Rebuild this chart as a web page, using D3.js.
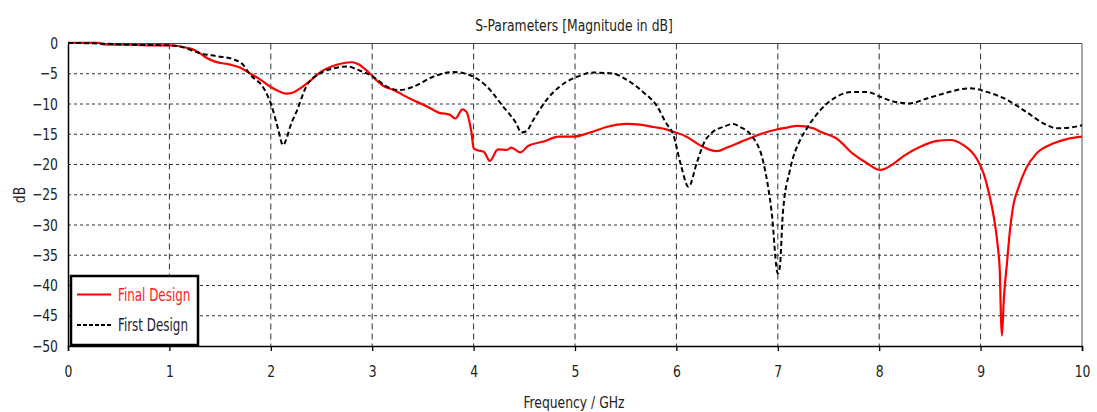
<!DOCTYPE html>
<html>
<head>
<meta charset="utf-8">
<script src="https://cdn.jsdelivr.net/npm/d3@7"></script>
<style>
  html, body { margin: 0; padding: 0; background: #fff; }
  svg { display: block; }
  text { font-family: "DejaVu Sans Condensed", "Liberation Sans", sans-serif; }
</style>
</head>
<body>
<svg id="chart" width="1097" height="412"></svg>
<script>
// S11 magnitude of the final antenna design (frequency in GHz, magnitude in dB)
const finalFreq = [0, 0.3, 0.35, 0.6, 0.8, 1.0, 1.1, 1.17, 1.25, 1.3, 1.37, 1.45, 1.6, 1.7, 1.8, 1.9, 2.0, 2.08, 2.15, 2.22, 2.3, 2.4, 2.5, 2.6, 2.7, 2.8, 2.86, 2.92, 2.98, 3.05, 3.1, 3.21, 3.37, 3.54, 3.67, 3.72, 3.77, 3.82, 3.89, 3.93, 3.96, 3.98, 4.0, 4.03, 4.1, 4.16, 4.24, 4.33, 4.37, 4.46, 4.54, 4.69, 4.84, 4.98, 5.15, 5.31, 5.51, 5.64, 5.77, 5.9, 5.97, 6.1, 6.23, 6.4, 6.5, 6.63, 6.76, 6.92, 7.09, 7.19, 7.35, 7.42, 7.58, 7.74, 7.88, 8.01, 8.14, 8.24, 8.4, 8.57, 8.7, 8.83, 8.96, 9.03, 9.09, 9.14, 9.17, 9.19, 9.2, 9.21, 9.23, 9.26, 9.29, 9.32, 9.37, 9.45, 9.55, 9.72, 9.85, 10];
const finalDb = [0.1, 0.1, -0.15, -0.2, -0.3, -0.3, -0.45, -0.7, -1.1, -1.6, -2.4, -3.0, -3.5, -4.0, -5.0, -6.0, -7.2, -7.9, -8.3, -8.1, -7.3, -6.0, -4.6, -3.8, -3.3, -3.1, -3.4, -4.1, -5.0, -6.2, -6.9, -7.7, -9.1, -10.4, -11.5, -11.6, -11.8, -12.4, -10.9, -11.3, -13.0, -14.8, -17.3, -17.6, -17.9, -19.4, -17.5, -17.6, -17.2, -18.0, -16.9, -16.2, -15.4, -15.4, -14.7, -13.8, -13.3, -13.4, -13.8, -14.2, -14.6, -15.4, -16.8, -17.8, -17.2, -16.3, -15.4, -14.5, -13.9, -13.6, -14.0, -14.6, -15.7, -18.2, -19.8, -20.9, -19.9, -18.6, -17.1, -16.1, -15.95, -16.8, -19.0, -21.5, -25.3, -29.7, -33.6, -37.9, -45, -48.3, -42, -36.3, -30.8, -27, -24, -20.6, -18.2, -16.5, -15.8, -15.4];

// S11 magnitude of the first antenna design
const firstFreq = [0, 0.3, 0.6, 1.0, 1.1, 1.2, 1.3, 1.47, 1.63, 1.72, 1.8, 1.93, 2.01, 2.07, 2.12, 2.16, 2.19, 2.26, 2.35, 2.49, 2.62, 2.75, 2.88, 3.01, 3.14, 3.27, 3.41, 3.6, 3.8, 3.96, 4.13, 4.29, 4.42, 4.47, 4.52, 4.59, 4.72, 4.85, 5.02, 5.18, 5.38, 5.51, 5.67, 5.81, 5.9, 5.97, 6.04, 6.12, 6.2, 6.27, 6.36, 6.46, 6.56, 6.63, 6.73, 6.86, 6.94, 7.0, 7.02, 7.05, 7.12, 7.22, 7.28, 7.42, 7.58, 7.74, 7.88, 8.01, 8.14, 8.3, 8.47, 8.67, 8.9, 9.06, 9.26, 9.45, 9.62, 9.75, 9.88, 10];
const firstDb = [0.1, 0, -0.2, -0.3, -0.5, -1.0, -1.6, -2.1, -2.6, -3.4, -5.2, -7.4, -10.4, -14, -16.8, -15.5, -13.8, -11, -7.1, -4.9, -4.1, -3.8, -4.5, -5.5, -7.1, -7.7, -7.1, -5.5, -4.7, -5.2, -7.1, -10.4, -13.2, -14.7, -14.5, -12.6, -9.3, -7.1, -5.5, -4.8, -5.0, -6.0, -8.0, -10.4, -13.2, -15.1, -19.8, -23.7, -19.8, -16.5, -14.6, -13.8, -13.3, -13.8, -15.0, -19.8, -28, -38, -37, -28, -20.9, -15.95, -14.2, -11, -8.8, -8.0, -8.0, -8.8, -9.6, -9.9, -9.1, -8.1, -7.4, -8.0, -9.3, -11.3, -13.2, -14.0, -13.9, -13.5];

const xTicks = [0, 1, 2, 3, 4, 5, 6, 7, 8, 9, 10];
const yTicks = [0, -5, -10, -15, -20, -25, -30, -35, -40, -45, -50];
const seriesNames = ["Final Design", "First Design"];

const svg = d3.select("#chart");
const W = 1097, H = 412;
const margin = { top: 43.5, right: 15, bottom: 66, left: 68 };
const x = d3.scaleLinear().domain([0, 10]).range([margin.left, W - margin.right]);
const y = d3.scaleLinear().domain([-50, 0]).range([H - margin.bottom, margin.top]);

// narrow label text: squeeze each string horizontally to a condensed width
const squeeze = 0.86;
function narrowText(sel, x0, y0, k = squeeze) {
  sel.attr("transform", `translate(${x0},${y0}) scale(${k},1)`);
  return sel;
}

// grid: vertical dashed, horizontal dotted
svg.append("g").selectAll("line").data(xTicks.slice(1, -1)).join("line")
  .attr("x1", d => x(d)).attr("x2", d => x(d))
  .attr("y1", y(0)).attr("y2", y(-50))
  .attr("stroke", "#333").attr("stroke-width", 1).attr("stroke-dasharray", "6,4");
svg.append("g").selectAll("line").data(yTicks.slice(1, -1)).join("line")
  .attr("x1", x(0)).attr("x2", x(10))
  .attr("y1", d => y(d)).attr("y2", d => y(d))
  .attr("stroke", "#333").attr("stroke-width", 1).attr("stroke-dasharray", "3,3");

// plot frame
svg.append("line").attr("x1", x(0)).attr("x2", x(10)).attr("y1", y(0)).attr("y2", y(0))
  .attr("stroke", "#444").attr("stroke-width", 1.2);
svg.append("line").attr("x1", x(10)).attr("x2", x(10)).attr("y1", y(0)).attr("y2", y(-50))
  .attr("stroke", "#888").attr("stroke-width", 1.5);

// curves
const line = (fs, ds) => d3.line()
  .x(i => x(fs[i])).y(i => y(ds[i]))
  .curve(d3.curveMonotoneX)(d3.range(fs.length));

svg.append("path").attr("d", line(finalFreq, finalDb))
  .attr("fill", "none").attr("stroke", "#ff0000").attr("stroke-width", 2.2)
  .attr("stroke-linejoin", "round");
svg.append("path").attr("d", line(firstFreq, firstDb))
  .attr("fill", "none").attr("stroke", "#000").attr("stroke-width", 2)
  .attr("stroke-dasharray", "5,3");

// axes
const xAxis = d3.axisBottom(x).tickValues(xTicks).tickFormat(d3.format("d")).tickSize(5).tickPadding(8);
const gx = svg.append("g").attr("transform", `translate(0,${y(-50)})`).call(xAxis);
gx.select(".domain").attr("stroke", "#000").attr("stroke-width", 1.5);
gx.selectAll(".tick line").attr("stroke", "#000").attr("stroke-width", 1.3);
gx.selectAll(".tick text").attr("font-size", 16).attr("fill", "#222").attr("dy", "0.9em")
  .attr("transform", `translate(0,4) scale(${squeeze},1)`).attr("x", 0)
  .style("font-family", '"DejaVu Sans Condensed", sans-serif');

const yAxis = d3.axisLeft(y).tickValues(yTicks).tickFormat(d3.format("d")).tickSize(0).tickPadding(10);
const gy = svg.append("g").attr("transform", `translate(${x(0)},0)`).call(yAxis);
gy.select(".domain").attr("stroke", "#000").attr("stroke-width", 1.5);
gy.selectAll(".tick text").attr("font-size", 16).attr("fill", "#222")
  .attr("transform", `translate(-10,0) scale(${squeeze},1)`).attr("x", 0)
  .style("font-family", '"DejaVu Sans Condensed", sans-serif');

// titles
narrowText(svg.append("text"), 574, 31).attr("text-anchor", "middle")
  .attr("font-size", 16).attr("fill", "#222").text("S-Parameters [Magnitude in dB]");
narrowText(svg.append("text"), 574, 408).attr("text-anchor", "middle")
  .attr("font-size", 16).attr("fill", "#222").text("Frequency / GHz");
svg.append("text").attr("transform", `translate(25,195) rotate(-90) scale(${squeeze},1)`).attr("text-anchor", "middle")
  .attr("font-size", 16).attr("fill", "#222").text("dB");

// legend
const lg = svg.append("g");
lg.append("rect").attr("x", 71).attr("y", 276).attr("width", 127).attr("height", 69)
  .attr("fill", "#fff").attr("stroke", "#000").attr("stroke-width", 2.5);
const legendRows = [
  { name: seriesNames[0], color: "#ff0000", dash: null, textColor: "#ff1a1a", yy: 294.5 },
  { name: seriesNames[1], color: "#000", dash: "4,2", textColor: "#1a1a2e", yy: 325 }
];
legendRows.forEach(r => {
  lg.append("line").attr("x1", 77).attr("x2", 111).attr("y1", r.yy).attr("y2", r.yy)
    .attr("stroke", r.color).attr("stroke-width", r.dash ? 2 : 2.2)
    .attr("stroke-dasharray", r.dash);
  narrowText(lg.append("text"), 118, r.yy + 6, 0.78).attr("font-size", 17)
    .attr("fill", r.textColor).text(r.name);
});
</script>
</body>
</html>
